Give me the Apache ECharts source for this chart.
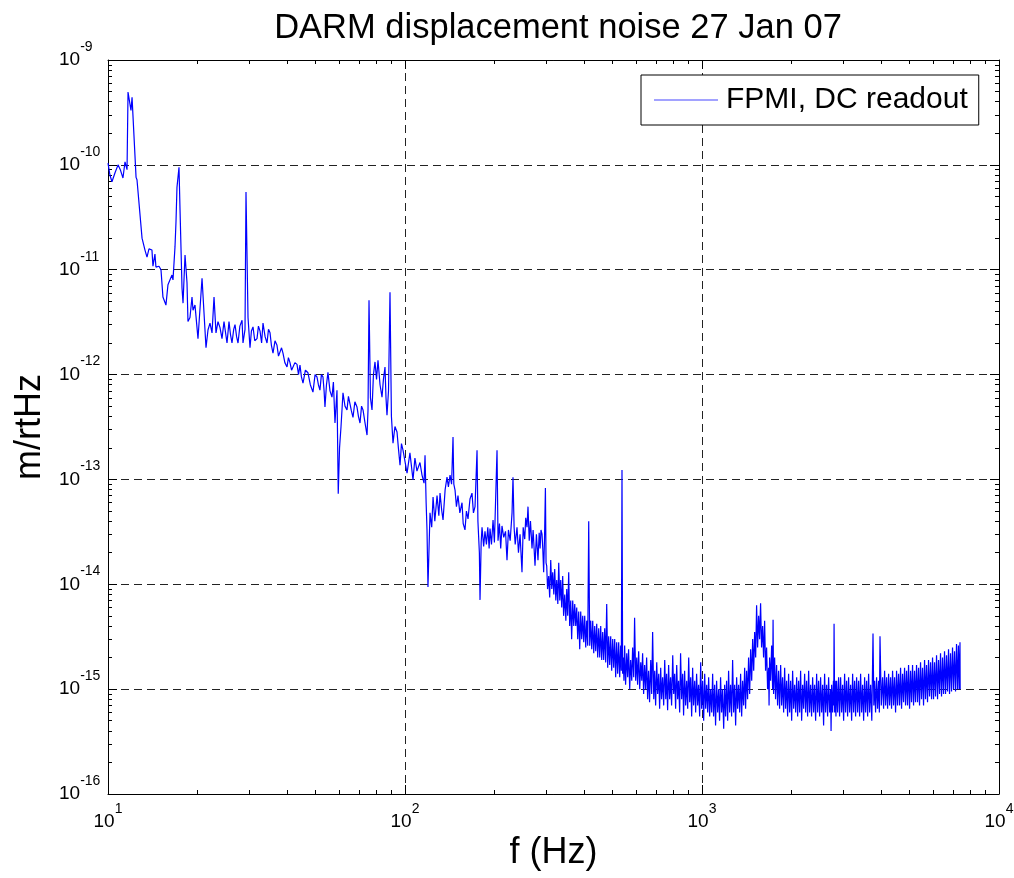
<!DOCTYPE html>
<html><head><meta charset="utf-8">
<script src="https://cdn.jsdelivr.net/npm/echarts@6/dist/echarts.min.js"></script>
<style>html,body{margin:0;padding:0;background:#fff}#c{width:1014px;height:878px}</style>
</head><body><div id="c"></div>
<script>
const titleText = 'DARM displacement noise 27 Jan 07';
const seriesName = 'FPMI, DC readout';
const xName = 'f (Hz)';
const yName = 'm/rtHz';
const xMinorTicks = [20,30,40,50,60,70,80,90,200,300,400,500,600,700,800,900,2000,3000,4000,5000,6000,7000,8000,9000];
const yMinorTicks = [];
for (let e = -16; e < -9; e++) for (let k = 2; k <= 9; k++) yMinorTicks.push(k * Math.pow(10, e));

// [frequency Hz, amplitude m/rtHz]
const lowBand = [[10,1.04e-10],[10.15,8e-11],[10.31,6.9e-11],[10.56,8.4e-11],[10.81,1e-10],[11,9e-11],[11.23,7.5e-11],[11.41,1.07e-10],[11.59,9e-11],[11.68,4.95e-10],[11.95,3.3e-10],[12.05,4.4e-10],[12.43,7.6e-11],[12.52,7.2e-11],[13.02,2e-11],[13.32,1.54e-11],[13.53,1.32e-11],[13.74,1.58e-11],[14.06,1.54e-11],[14.17,1.08e-11],[14.39,1.41e-11],[14.5,1.06e-11],[14.85,1.08e-11],[15.08,1e-11],[15.31,5.5e-12],[15.67,4.6e-12],[15.92,7.2e-12],[16.42,8.9e-12],[16.55,8e-12],[16.81,1.65e-11],[16.94,2.85e-11],[17.07,6.1e-11],[17.34,9.5e-11],[17.48,3.7e-11],[17.75,6.7e-12],[17.89,4.8e-12],[18.17,1.38e-11],[18.45,7.5e-12],[18.59,3.2e-12],[18.88,3.5e-12],[19.18,5.5e-12],[19.33,4.1e-12],[19.63,4.6e-12],[20.09,2.2e-12],[20.73,8.3e-12],[21.38,1.8e-12],[21.71,2.66e-12],[22.05,3.1e-12],[22.4,2.5e-12],[22.75,5.5e-12],[23.1,2.5e-12],[23.46,3.2e-12],[23.83,2.8e-12],[24.2,2.2e-12],[24.58,3.2e-12],[25.16,2e-12],[25.55,3.2e-12],[25.85,2.4e-12],[26.15,2e-12],[26.5,2.7e-12],[26.77,3e-12],[27.1,2.3e-12],[27.4,2e-12],[27.8,2.9e-12],[28.27,3.3e-12],[28.48,2e-12],[28.93,2.7e-12],[29.15,5.5e-11],[29.61,3.5e-12],[30.07,1.8e-12],[30.4,2.6e-12],[30.78,2.85e-12],[31.2,2.1e-12],[31.75,2.2e-12],[32.1,2.9e-12],[32.5,2.6e-12],[32.9,2e-12],[33.26,3.1e-12],[33.8,2.3e-12],[34.31,2e-12],[34.7,2.7e-12],[35.12,2.5e-12],[35.5,1.9e-12],[35.94,1.6e-12],[36.5,2.1e-12],[37.07,1.9e-12],[37.5,1.5e-12],[37.94,1.44e-12],[38.4,1.8e-12],[38.83,1.6e-12],[39.4,1.3e-12],[40.06,1.18e-12],[40.5,1.45e-12],[41,1.3e-12],[41.5,1.1e-12],[41.96,1.06e-12],[42.6,1.3e-12],[43.29,1.25e-12],[43.8,1e-12],[44.3,1.23e-12],[44.8,9.5e-13],[45.35,8.3e-13],[46.2,1.1e-12],[47.13,1.04e-12],[48,8e-13],[48.99,6.8e-13],[49.8,1e-12],[50.53,9.5e-13],[51.1,8e-13],[51.72,7.1e-13],[52.3,1e-12],[52.94,9.5e-13],[53.4,7e-13],[53.77,4.9e-13],[54.4,8e-13],[55.03,1.05e-12],[55.9,7e-13],[56.77,6.1e-13],[57.4,8.5e-13],[58.11,3.45e-13],[59.02,7.1e-13],[59.6,7.3e-14],[60.2,2e-13],[60.88,3.16e-13],[61.83,6.7e-13],[62.8,5e-13],[63.78,4.6e-13],[64.5,6.2e-13],[65.28,6.4e-13],[66,4.5e-13],[66.82,3.9e-13],[67.8,5.5e-13],[68.93,4.9e-13],[69.7,4e-13],[70.55,3.45e-13],[71.4,5e-13],[72.22,4.6e-13],[73.3,3.5e-13],[74.5,2.65e-13],[75.07,4.6e-13],[75.65,5.1e-12],[76.5,6e-13],[77.43,4.6e-13],[78.3,1e-12],[79.25,1.32e-12],[80.2,9e-13],[81.11,1.37e-12],[82.4,8e-13],[83.67,6.1e-13],[84.6,9e-13],[85.64,1.18e-12],[86.3,6e-13],[86.97,4.1e-13],[88,7e-13],[89.02,6.1e-12],[90,4e-13],[91.12,2.22e-13],[92.5,3.2e-13],[94,2.83e-13],[95,2e-13],[96.21,1.37e-13],[97.3,2.2e-13],[98.47,1.9e-13]];

const midBand = [[101.6,1.15e-13],[103.9,1.79e-13],[106.4,9.9e-14],[108,1.6e-13],[109.7,1.2e-13],[112.3,1.45e-13],[114.1,1.1e-13],[115.9,9.2e-14],[116.8,1.7e-13],[117.8,6e-14],[118.6,3.3e-14],[119.5,9.4e-15],[121.4,4.8e-14],[123,3.5e-14],[124.3,6.8e-14],[126,4e-14],[128.2,7e-14],[130,4.5e-14],[131.2,7.4e-14],[133,5e-14],[134.3,4.1e-14],[136.5,8e-14],[138.5,1.05e-13],[140,8.5e-14],[141.8,1.1e-13],[143.5,9e-14],[145.1,2.54e-13],[146,9e-14],[147.4,7.9e-14],[149,5.5e-14],[150.8,7e-14],[153,4.8e-14],[155.6,6e-14],[157,3.8e-14],[159.2,3.3e-14],[161,5e-14],[163,4.2e-14],[165.5,6.5e-14],[168.1,7.4e-14],[170,4.8e-14],[172.1,5.5e-14],[174.8,1.9e-13],[176,4e-14],[178,2e-14],[178.9,7.1e-15],[180.5,2.5e-14],[181.7,3.5e-14],[184,2.3e-14],[185.9,3.2e-14],[188,2.4e-14],[190,3.5e-14],[192,2.2e-14],[193.3,3.4e-14],[195.5,2.4e-14],[197.9,4.1e-14],[200,2.5e-14],[204.1,1.9e-13],[205.7,2.6e-14],[208,3.8e-14],[210,2.2e-14],[212.1,3.6e-14],[215,2.8e-14],[218,3.2e-14],[220.5,1.7e-14],[223,3.3e-14],[226,2.6e-14],[229.3,4.8e-14],[231,1.05e-13],[233,3.5e-14],[235,2.4e-14],[238.3,3.5e-14],[241,2e-14],[244,3e-14],[247.7,1.3e-14],[250,3.5e-14],[253,2.7e-14],[255,4.3e-14],[257.5,3.5e-14],[259.5,5.5e-14],[262,2.6e-14],[264.5,4e-14],[267.7,2.2e-14],[270,3.3e-14],[274,1.5e-14],[277,3e-14],[280.4,1.7e-14],[283,3.1e-14],[285,2.2e-14],[287,3.3e-14],[289.3,3e-14],[291,2.2e-14],[293,1.3e-14],[295,2.8e-14],[297,8.3e-14],[298.5,1.6e-14]];

const highBand = [[300,1.5e-14],[302,9e-15],[304.7,1.2e-14],[307,7.5e-15],[309.5,1.7e-14],[312,9e-15],[314.3,1.3e-14],[317,8e-15],[319.2,1.4e-14],[322,7e-15],[324.2,1.1e-14],[327,6.5e-15],[329.3,1.6e-14],[332,7e-15],[334.4,1.1e-14],[337,6e-15],[339.6,1.2e-14],[342,5e-15],[345,8e-15],[348,4.5e-15],[350.4,9e-15],[353,5e-15],[355.8,1.3e-14],[358.5,4e-15],[361.4,7e-15],[364,3e-15],[367,7e-15],[370,4e-15],[372.8,6.5e-15],[375.7,4e-15],[378.6,6e-15],[381.5,3e-15],[384.5,5.5e-15],[387.5,2.4e-15],[390.5,5.5e-15],[393.5,3e-15],[396.6,5e-15],[399.7,2.8e-15],[402.8,5e-15],[406,2.5e-15],[409.1,4.5e-15],[412.3,2.6e-15],[415.5,4e-14],[418.7,2.6e-15],[422,4.5e-15],[425.3,2.4e-15],[428.6,4.5e-15],[432,2.2e-15],[435.3,4e-15],[438.7,2.3e-15],[442.1,4.2e-15],[445.5,2e-15],[449,3.8e-15],[452.5,2e-15],[456,4e-15],[459.5,1.9e-15],[463.1,3.5e-15],[466.7,1.9e-15],[470.3,3.8e-15],[474,1.8e-15],[477.7,6.5e-15],[481.4,1.6e-15],[485.1,3.2e-15],[488.9,1.7e-15],[492.7,3.2e-15],[496.5,1.5e-15],[500.4,3e-15],[504.3,1.6e-15],[508.2,3e-15],[512.1,1.3e-15],[516.1,2.8e-15],[520.1,1.4e-15],[524.2,2.8e-15],[528.3,1.3e-15],[532.4,2.6e-15],[535,1.5e-15],[537.8,1.23e-13],[540.5,1.4e-15],
[543,2e-15],[546,1.2e-15],[549,2.6e-15],[553,1.1e-15],[558,2.2e-15],[562,1.3e-15],[566,2.4e-15],[571,1e-15],[575,1.9e-15],[580,1.2e-15],[584,2.5e-15],[589,1.3e-15],[593,4.8e-15],[598,1.2e-15],[603,2e-15],[607,1.1e-15],[612,2.3e-15],[617,1e-15],[622,1.8e-15],[627,1.2e-15],[631,2.2e-15],[636,9e-16],[641,1.7e-15],[646,1e-15],[651,2e-15],[656,8e-16],[661,1.5e-15],[666,7.5e-16],[672,1.9e-15],[677,9e-16],[682,3.5e-15],[688,8e-16],[693,1.5e-15],[698,7e-16],[704,1.8e-15],[709,9e-16],[715,1.4e-15],[720,6.5e-16],[726,1.6e-15],[731,8e-16],[737,1.3e-15],[743,7e-16],[749,1.9e-15],[755,8e-16],[760,1.4e-15],[766,6.3e-16],[772,1.7e-15],[778,8e-16],[784,1.3e-15],[790,7e-16],[797,2.1e-15],[803,9e-16],[809,1.4e-15],[815,6.5e-16],[822,1.7e-15],[828,8e-16],[834,1.2e-15],[841,6e-16],[847,2.2e-15],[854,8e-16],[861,1.4e-15],[867,5.6e-16],[874,1.5e-15],[881,7e-16],[888,1.2e-15],[895,6.5e-16],[902,2e-15],[909,7.5e-16],[916,1.3e-15],[923,5.5e-16],[930,1.6e-15],[937,7e-16],[945,1.2e-15],[952,6e-16],[959,1.4e-15],[967,7e-16],[974,1.1e-15],[982,5.5e-16],[990,1.8e-15],[997,6.5e-16],
[1005,1.2e-15],[1013,5e-16],[1021,1.4e-15],[1029,6.5e-16],[1037,1.1e-15],[1045,6e-16],[1053,1.3e-15],[1061,5.5e-16],[1069,1e-15],[1078,6e-16],[1086,1.4e-15],[1094,5.5e-16],[1103,1.1e-15],[1111,4.5e-16],[1120,1.2e-15],[1129,6e-16],[1138,1e-15],[1146,5e-16],[1155,1.3e-15],[1164,6e-16],[1173,1e-15],[1183,4.2e-16],[1192,1.1e-15],[1201,5.5e-16],[1210,1.2e-15],[1220,5e-16],[1229,1.5e-15],[1239,6e-16],[1248,1.1e-15],[1258,5.5e-16],[1268,1.9e-15],[1278,6e-16],[1288,1.1e-15],[1298,4.5e-16],[1308,1.3e-15],[1318,6.5e-16],[1328,1.1e-15],[1339,6e-16],[1349,1.4e-15],[1360,5.5e-16],[1370,1.2e-15],[1381,7e-16],[1392,1.6e-15],[1402,6.5e-16],[1413,1.5e-15],[1424,8e-16],[1435,2e-15],[1447,9e-16],[1458,2.4e-15],[1470,1.2e-15],[1481,3e-15],[1493,1.5e-15],[1504,3.5e-15],[1516,2e-15],[1527,6.3e-15],[1539,2.5e-15],[1551,5e-15],[1563,3e-15],[1575,6.6e-15],[1587,2.5e-15],[1600,4e-15],[1612,2e-15],[1625,4.5e-15],[1637,1.5e-15],[1650,2.5e-15],[1663,1e-15],[1676,1.6e-15],[1682,7e-16],[1689,2e-15],[1702,1.2e-15],[1716,2.6e-15],[1729,1e-15],[1735,4.6e-15],[1742,9e-16],[1756,2e-15],[1769,8e-16],[1783,1.7e-15],[1797,7e-16],[1811,1.5e-15],[1825,6.5e-16],[1840,1.7e-15],[1854,7e-16],[1868,1.3e-15],[1883,6e-16],[1898,1.6e-15],[1912,6.5e-16],[1927,1.2e-15],[1942,5.5e-16],[1957,1.4e-15],[1973,6e-16],[1988,1.2e-15],
[2004,5e-16],[2019,1.5e-15],[2035,6.5e-16],[2051,1.1e-15],[2067,6e-16],[2083,1.3e-15],[2099,5.5e-16],[2115,1.2e-15],[2132,6e-16],[2148,1.5e-15],[2165,5e-16],[2182,1.1e-15],[2199,6.5e-16],[2216,1.4e-15],[2233,6e-16],[2250,1.2e-15],[2268,5.5e-16],[2286,1.5e-15],[2303,6e-16],[2321,1.1e-15],[2339,5.5e-16],[2358,1.3e-15],[2376,6e-16],[2394,1.1e-15],[2413,5e-16],[2432,1.4e-15],[2451,6e-16],[2470,1.2e-15],[2489,5.5e-16],[2508,1.3e-15],[2528,6e-16],[2548,1.1e-15],[2567,4.5e-16],[2587,1.4e-15],[2607,6e-16],[2628,1.1e-15],[2648,5.5e-16],[2669,1.3e-15],[2690,6e-16],[2711,1e-15],[2720,4e-16],[2732,1.1e-15],[2753,6e-16],[2770,1.2e-15],[2777,7e-16],[2784,4.2e-15],[2797,6e-16],[2810,1.2e-15],[2825,5.5e-16],[2840,1.2e-15],[2862,6e-16],[2884,1.3e-15],[2906,5.5e-16],[2929,1.3e-15],[2952,6e-16],[2975,1.1e-15],[2998,5e-16],
[3021,1.4e-15],[3044,6e-16],[3068,1.2e-15],[3092,5.5e-16],[3116,1.3e-15],[3140,6e-16],[3165,1.1e-15],[3190,5e-16],[3215,1.4e-15],[3240,6e-16],[3265,1.2e-15],[3290,5.5e-16],[3316,1.3e-15],[3342,6e-16],[3368,1.2e-15],[3394,5.5e-16],[3420,1.4e-15],[3447,6e-16],[3474,1.1e-15],[3501,5e-16],[3528,1.3e-15],[3555,6e-16],[3583,1.2e-15],[3611,5.5e-16],[3639,1.4e-15],[3667,6e-16],[3696,1.1e-15],[3730,5e-16],[3765,3.4e-15],[3790,7e-16],[3812,1.2e-15],[3841,6e-16],[3871,1.3e-15],[3901,6.5e-16],[3932,1.2e-15],[3955,6e-16],[3975,3.2e-15],
[4015,7e-16],[4056,1.3e-15],[4087,6.5e-16],[4119,1.5e-15],[4151,7e-16],[4183,1.3e-15],[4216,6.5e-16],[4249,1.4e-15],[4282,7e-16],[4315,1.3e-15],[4348,6.5e-16],[4382,1.5e-15],[4416,7e-16],[4451,1.3e-15],[4485,6e-16],[4520,1.5e-15],[4555,7e-16],[4591,1.4e-15],[4627,7e-16],[4662,1.6e-15],[4698,6.5e-16],[4735,1.4e-15],[4772,7.5e-16],[4809,1.6e-15],[4846,7e-16],[4884,1.5e-15],[4922,7e-16],[4960,1.7e-15],[4999,6.5e-16],
[5038,1.5e-15],[5077,7.5e-16],[5116,1.7e-15],[5156,7e-16],[5196,1.5e-15],[5236,7.5e-16],[5277,1.7e-15],[5318,7.5e-16],[5360,1.6e-15],[5401,7e-16],[5443,1.8e-15],[5485,8e-16],[5528,1.6e-15],[5571,7e-16],[5615,1.9e-15],[5658,8e-16],[5702,1.7e-15],[5746,7.5e-16],[5791,1.9e-15],[5836,8.5e-16],[5882,1.8e-15],[5928,8e-16],[5974,2e-15],
[6020,8e-16],[6067,1.8e-15],[6114,8.5e-16],[6162,2.1e-15],[6210,8e-16],[6258,1.9e-15],[6306,9e-16],[6355,2.2e-15],[6405,8.5e-16],[6455,2e-15],[6505,9e-16],[6555,2.3e-15],[6606,9e-16],[6658,2.1e-15],[6710,9.5e-16],[6762,2.4e-15],[6814,9e-16],[6867,2.2e-15],[6921,9.5e-16],[6975,2.5e-15],
[7029,1e-15],[7084,2.3e-15],[7139,9.5e-16],[7194,2.7e-15],[7247,1e-15],[7300,2.6e-15],[7345,1e-15],[7390,2.8e-15],[7400,1e-15]];

const FONT = 'Liberation Sans, Arial, sans-serif';
const rich = {
  b: {fontSize: 19, fontFamily: FONT, color: '#000', lineHeight: 20, padding: [10, 0, 10, 0]},
  s: {fontSize: 14, fontFamily: FONT, color: '#000', lineHeight: 14, padding: [0, 0, 26, 0]}
};
const pow10Label = v => '{b|10}{s|' + Math.round(Math.log10(v)) + '}';
const noLine = {show: false};
const tickStyle = {color: '#000', width: 1};

const chart = echarts.init(document.getElementById('c'), null, {renderer: 'canvas'});
chart.setOption({
  animation: false,
  backgroundColor: '#fff',
  title: {
    text: titleText, left: 553, top: 6, textAlign: 'center',
    textStyle: {fontFamily: FONT, fontSize: 34.5, fontWeight: 'normal', color: '#000'}
  },
  legend: {
    data: [{name: seriesName, icon: 'rect'}], left: 641, top: 75,
    backgroundColor: '#fff', borderColor: '#000', borderWidth: 1, borderRadius: 0,
    padding: [10, 11, 10, 13], itemWidth: 64, itemHeight: 1, itemGap: 0,
    itemStyle: {color: '#4646ff'},
    textStyle: {fontFamily: FONT, fontSize: 30, color: '#000', padding: [0, 0, 0, 3]}
  },
  grid: {left: 108, right: 15, top: 60, bottom: 84, containLabel: false, outerBoundsMode: 'none'},
  xAxis: [
    {type: 'log', logBase: 10, min: 10, max: 10000, position: 'bottom',
     name: xName, nameLocation: 'middle', nameGap: 41, nameMoveOverlap: false,
     nameTextStyle: {fontFamily: FONT, fontSize: 36, color: '#000'},
     axisLine: {show: true, onZero: false, lineStyle: tickStyle},
     axisTick: {show: true, inside: true, length: 9, lineStyle: tickStyle},
     axisLabel: {formatter: pow10Label, rich: rich, margin: 18, hideOverlap: false},
     splitLine: {show: true, lineStyle: {color: '#222', width: 1, type: [8, 5]}}},
    {type: 'log', logBase: 10, min: 10, max: 10000, position: 'top',
     axisLine: {show: true, onZero: false, lineStyle: tickStyle},
     axisTick: {show: true, inside: true, length: 9, lineStyle: tickStyle},
     axisLabel: {show: false}, splitLine: noLine},
    {type: 'value', min: 1, max: 4, position: 'bottom',
     axisLine: {show: false, onZero: false},
     axisTick: {show: true, inside: true, length: 4, lineStyle: tickStyle, customValues: xMinorTicks.map(Math.log10)},
     axisLabel: {show: false}, splitLine: noLine},
    {type: 'value', min: 1, max: 4, position: 'top',
     axisLine: {show: false, onZero: false},
     axisTick: {show: true, inside: true, length: 4, lineStyle: tickStyle, customValues: xMinorTicks.map(Math.log10)},
     axisLabel: {show: false}, splitLine: noLine}
  ],
  yAxis: [
    {type: 'log', logBase: 10, min: 1e-16, max: 1e-9, position: 'left',
     name: yName, nameLocation: 'middle', nameGap: 60, nameMoveOverlap: false,
     nameTextStyle: {fontFamily: FONT, fontSize: 36, color: '#000'},
     axisLine: {show: true, onZero: false, lineStyle: tickStyle},
     axisTick: {show: true, inside: true, length: 9, lineStyle: tickStyle},
     axisLabel: {formatter: pow10Label, rich: rich, margin: 49, align: 'left', hideOverlap: false},
     splitLine: {show: true, lineStyle: {color: '#222', width: 1, type: [8, 5]}}},
    {type: 'log', logBase: 10, min: 1e-16, max: 1e-9, position: 'right',
     axisLine: {show: true, onZero: false, lineStyle: tickStyle},
     axisTick: {show: true, inside: true, length: 9, lineStyle: tickStyle},
     axisLabel: {show: false}, splitLine: noLine},
    {type: 'value', min: -16, max: -9, position: 'left',
     axisLine: {show: false, onZero: false},
     axisTick: {show: true, inside: true, length: 4, lineStyle: tickStyle, customValues: yMinorTicks.map(Math.log10)},
     axisLabel: {show: false}, splitLine: noLine},
    {type: 'value', min: -16, max: -9, position: 'right',
     axisLine: {show: false, onZero: false},
     axisTick: {show: true, inside: true, length: 4, lineStyle: tickStyle, customValues: yMinorTicks.map(Math.log10)},
     axisLabel: {show: false}, splitLine: noLine}
  ],
  series: [{
    name: seriesName, type: 'line', xAxisIndex: 0, yAxisIndex: 0,
    data: lowBand.concat(midBand, highBand),
    symbol: 'none', showSymbol: false, sampling: null,
    lineStyle: {color: '#0000ff', width: 1.2}, itemStyle: {color: '#0000ff'}
  }]
});
</script></body></html>
